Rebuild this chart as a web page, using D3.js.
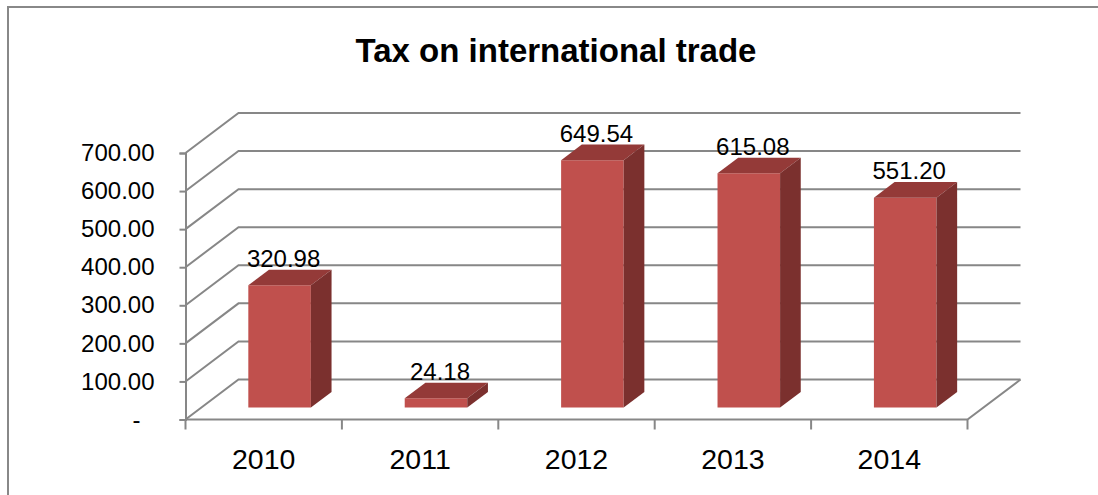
<!DOCTYPE html>
<html>
<head>
<meta charset="utf-8">
<script src="https://cdn.jsdelivr.net/npm/d3@7"></script>
<style>
  html, body { margin: 0; padding: 0; background: #fff; }
  svg { display: block; }
  text { font-family: "Liberation Sans", Arial, sans-serif; fill: #000; }
</style>
</head>
<body>
<svg id="chart" width="1098" height="495"></svg>
<script>
// Chart data
const years = ["2010", "2011", "2012", "2013", "2014"];
const taxValues = [320.98, 24.18, 649.54, 615.08, 551.20];
const yTicks = [0, 100, 200, 300, 400, 500, 600, 700];
const chartTitle = "Tax on international trade";

const svg = d3.select("#chart");

// Outer chart frame
svg.append("rect")
  .attr("x", 8).attr("y", 7)
  .attr("width", 1200).attr("height", 600)
  .attr("fill", "none").attr("stroke", "#888").attr("stroke-width", 2);

// Title
svg.append("text")
  .attr("x", 556).attr("y", 62)
  .attr("text-anchor", "middle")
  .attr("font-size", 33).attr("font-weight", "bold")
  .text(chartTitle);

// Front plane scales; depth is drawn as an oblique offset
const x = d3.scaleBand().domain(years).range([185.5, 967.5]);
const y = d3.scaleLinear().domain([0, 700]).range([419.5, 153]);
const DX = 53, DY = 40;
const proj = (px, v, z) => [px + z * DX, y(v) - z * DY];

const grid = svg.append("g")
  .attr("fill", "none").attr("stroke", "#878787").attr("stroke-width", 2);

// Back wall gridlines and side wall diagonals
yTicks.forEach(t => {
  const a = proj(x.range()[0], t, 0);
  const b = proj(x.range()[0], t, 1);
  const c = proj(x.range()[1], t, 1);
  grid.append("path").attr("d", d3.line()([a, b, c]));
});

// Floor front edge and right edge
{
  const a = proj(x.range()[0], 0, 0);
  const b = proj(x.range()[1], 0, 0);
  const c = proj(x.range()[1], 0, 1);
  grid.append("path").attr("d", d3.line()([a, b, c]));
}

// Vertical value axis on the front plane
const yAxis = d3.axisLeft(y)
  .tickValues(yTicks)
  .tickSize(6)
  .tickPadding(25)
  .tickFormat(d => d === 0 ? "-" : d3.format(".2f")(d));
const yg = svg.append("g")
  .attr("transform", `translate(${x.range()[0]},0)`)
  .call(yAxis);
yg.select(".domain").attr("stroke", "#878787").attr("stroke-width", 2);
yg.selectAll(".tick line").attr("stroke", "#878787").attr("stroke-width", 2);
yg.selectAll(".tick text")
  .attr("font-size", 24)
  .attr("font-family", "'Liberation Sans', Arial, sans-serif")
  .attr("fill", "#000")
  .attr("dx", d => d === 0 ? -14 : 0);

// Category axis along the front edge of the floor
const xAxis = d3.axisBottom(x).tickSize(0).tickPadding(29);
const xg = svg.append("g")
  .attr("transform", `translate(0,${y(0)})`)
  .call(xAxis);
xg.select(".domain").remove();
xg.selectAll(".tick text")
  .attr("font-size", 28.5)
  .attr("font-family", "'Liberation Sans', Arial, sans-serif")
  .attr("fill", "#000");
// Tick marks between categories
const bounds = years.map(d => x(d)).concat([x.range()[1]]);
xg.selectAll("line.sep").data(bounds).join("line")
  .attr("class", "sep")
  .attr("x1", d => d).attr("x2", d => d)
  .attr("y1", 0).attr("y2", 10)
  .attr("stroke", "#878787").attr("stroke-width", 2);

// 3D columns
const zFront = 0.3, zBack = 0.69;
const barW = x.bandwidth() / 2.5;
const bars = svg.append("g");
years.forEach((yr, i) => {
  const v = taxValues[i];
  const cx = x(yr) + x.bandwidth() / 2;
  const xl = cx - barW / 2, xr = cx + barW / 2;
  const fbl = proj(xl, 0, zFront), fbr = proj(xr, 0, zFront);
  const ftl = proj(xl, v, zFront), ftr = proj(xr, v, zFront);
  const bbr = proj(xr, 0, zBack), btl = proj(xl, v, zBack), btr = proj(xr, v, zBack);
  const g = bars.append("g");
  g.append("path").attr("d", d3.line()([fbl, fbr, ftr, ftl]) + "Z").attr("fill", "#c0504d");
  g.append("path").attr("d", d3.line()([ftl, ftr, btr, btl]) + "Z").attr("fill", "#943a38");
  g.append("path").attr("d", d3.line()([fbr, bbr, btr, ftr]) + "Z").attr("fill", "#7b302e");
  // Value label
  g.append("text")
    .attr("x", (ftl[0] + ftr[0]) / 2 + 4)
    .attr("y", btl[1] - 3)
    .attr("text-anchor", "middle")
    .attr("font-size", 24)
    .text(d3.format(".2f")(v));
});
</script>
</body>
</html>
